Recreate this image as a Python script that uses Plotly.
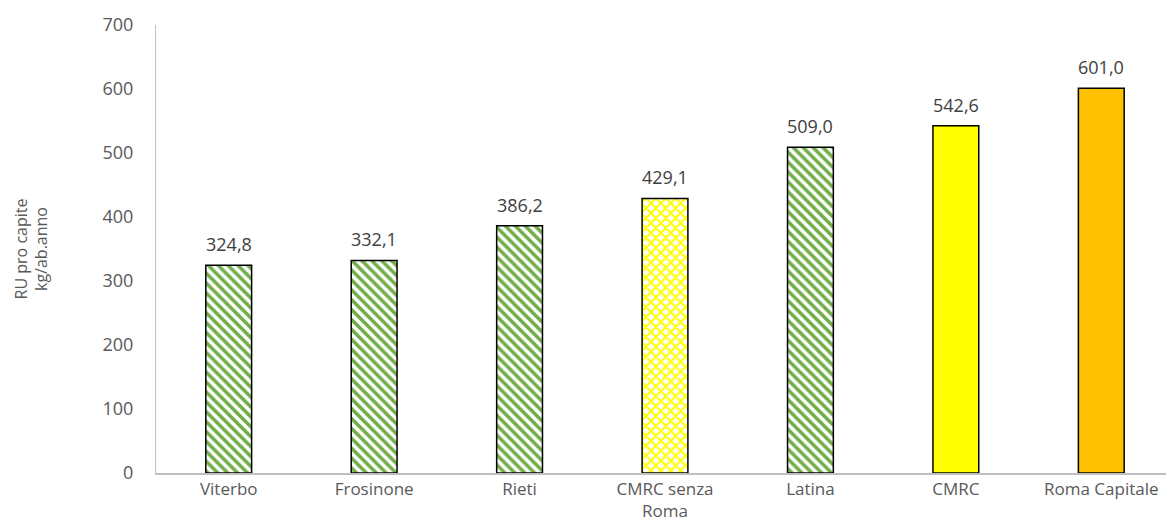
import plotly.graph_objects as go

categories = ["Viterbo", "Frosinone", "Rieti", "CMRC senza<br>Roma", "Latina", "CMRC", "Roma Capitale"]
values = [324.8, 332.1, 386.2, 429.1, 509.0, 542.6, 601.0]
fill_colors = ["white", "white", "white", "white", "white", "#FFFF00", "#FFC000"]
pattern_shapes = ["\\", "\\", "\\", "x", "\\", "", ""]
pattern_colors = ["#70AD47", "#70AD47", "#70AD47", "#FFFF00", "#70AD47", "#FFFF00", "#FFC000"]

font_family = "'Open Sans', sans-serif"
txt = "#595959"

fig = go.Figure()
for cat, val, fc, ps, pc in zip(categories, values, fill_colors, pattern_shapes, pattern_colors):
    fig.add_trace(go.Bar(
        x=[cat], y=[val], width=0.315,
        marker=dict(
            color=fc,
            line=dict(color="black", width=1.5),
            pattern=dict(shape=ps, fgcolor=pc, bgcolor="white",
                         size=7, solidity=0.5, fillmode="replace"),
        ),
        hoverinfo="skip",
    ))
    fig.add_annotation(x=cat, y=val, text=f"{val:.1f}".replace(".", ","),
                       showarrow=False, yshift=21, yanchor="middle",
                       font=dict(size=18, color="#404040", family=font_family))

fig.update_layout(
    width=1174, height=527,
    margin=dict(l=148, r=8, t=17, b=62),
    paper_bgcolor="white", plot_bgcolor="white",
    barmode="overlay",
    separators=",.",
    showlegend=False,
    font=dict(family=font_family, color=txt, size=15),
    xaxis=dict(showline=True, linecolor="#BFBFBF", linewidth=1.5, ticks="",
               tickfont=dict(size=17, color=txt), showgrid=False, automargin=False,
               categoryorder="array", categoryarray=categories),
    yaxis=dict(range=[0, 700], dtick=100, showline=True, linecolor="#BFBFBF", linewidth=1,
               showgrid=False, zeroline=False, ticks="", ticklabelstandoff=18,
               tickfont=dict(size=18, color=txt), automargin=False,
               title=dict(text="RU pro capite<br>kg/ab.anno", font=dict(size=16, color=txt), standoff=50)),
)

fig.write_html("out.html")
